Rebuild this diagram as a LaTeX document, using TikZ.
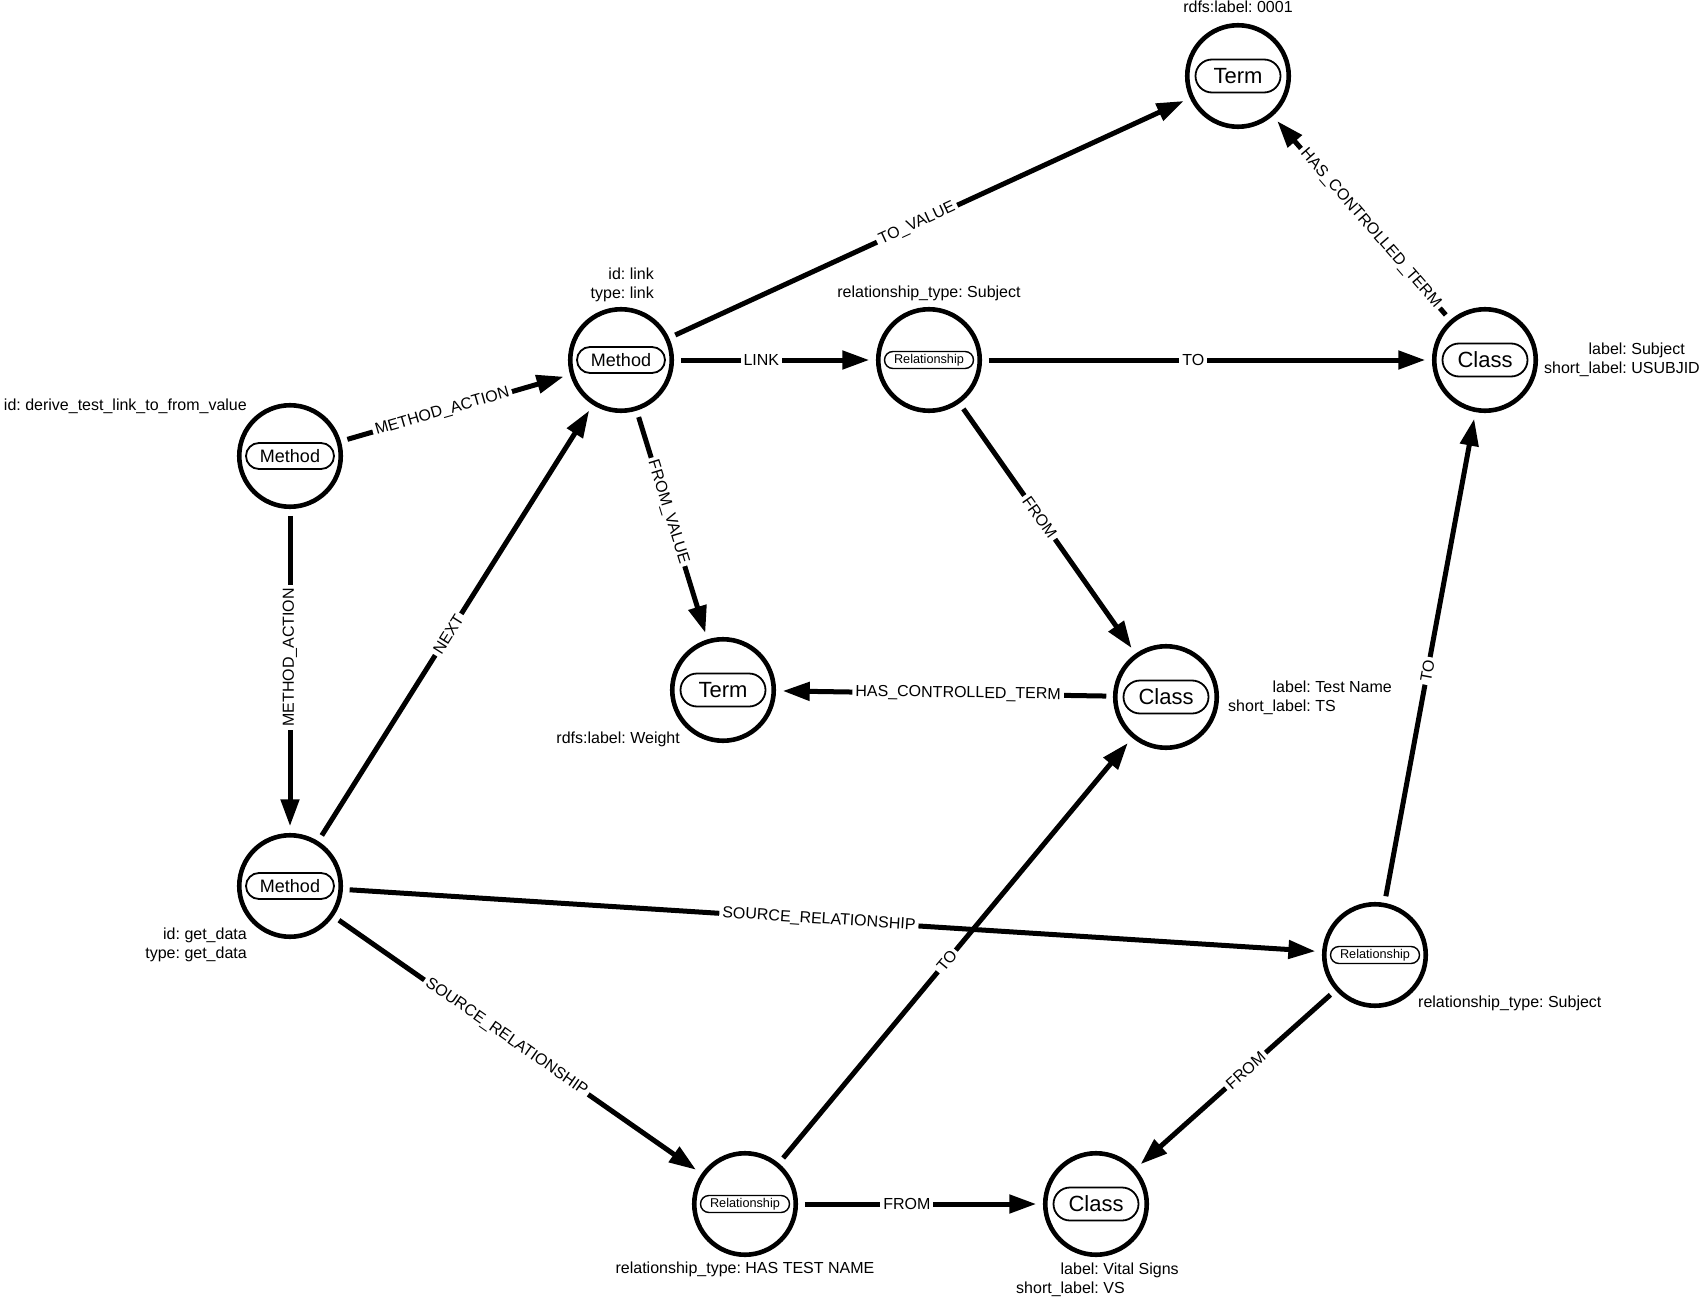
\documentclass[tikz,border=0pt]{standalone}
\usepackage{fontspec}
\setmainfont{Liberation Sans}
\usetikzlibrary{arrows.meta,shapes.misc,positioning,calc}
\newcommand{\propfont}{\fontsize{16}{19.2}\selectfont}
\newcommand{\kv}[1]{\begin{tabular}{@{}r@{:\ }l@{}}#1\end{tabular}}
\newcommand{\relarrow}[4][sloped]{\draw[rel] (#2) -- node[lbl,#1] {#4} ($(#3)!87pt!(#2)$) -- (#3);}
\tikzset{
  ent/.style={circle, draw, line width=4.6pt, minimum size=101.5pt, inner sep=0pt, outer sep=9pt},
  pill/.style={rounded rectangle, draw, line width=1.8pt, inner sep=0pt},
  mpill/.style={pill, minimum width=88pt, minimum height=26pt, font=\fontsize{18}{20}\selectfont},
  cpill/.style={pill, minimum width=85pt, minimum height=33pt, font=\fontsize{22}{24}\selectfont},
  rpill/.style={pill, minimum width=89pt, minimum height=17pt, line width=1.4pt, font=\fontsize{12.7}{14}\selectfont},
  prop/.style={inner sep=0pt, font=\propfont},
  rel/.style={line width=5pt, -{Triangle[length=27pt,width=18pt]}},
  lbl/.style={midway, fill=white, inner sep=3pt, font=\propfont},
}

\begin{document}
\begin{tikzpicture}[x=1pt,y=-1pt]
        \useasboundingbox (0,0) rectangle (1706,1300);

        \node[ent] (mDerive) at (290,456) {};   \node[mpill] at (mDerive) {Method};
        \node[ent] (mLink) at (621,360) {};     \node[mpill] at (mLink) {Method};
        \node[ent] (mData) at (290,886) {};     \node[mpill] at (mData) {Method};
        \node[ent] (tZero) at (1238,76) {};     \node[cpill] at (tZero) {Term};
        \node[ent] (tWeight) at (723,690) {};   \node[cpill] at (tWeight) {Term};
        \node[ent] (rSubj) at (929,360) {};     \node[rpill] at (rSubj) {Relationship};
        \node[ent] (rSubjB) at (1375,955) {};   \node[rpill] at (rSubjB) {Relationship};
        \node[ent] (rTest) at (745,1204) {};    \node[rpill] at (rTest) {Relationship};
        \node[ent] (cSubj) at (1485,360) {};    \node[cpill] at (cSubj) {Class};
        \node[ent] (cTest) at (1166,697) {};    \node[cpill] at (cTest) {Class};
        \node[ent] (cVital) at (1096,1204) {};  \node[cpill] at (cVital) {Class};

        \node[prop, anchor=east] at (247,407) {\kv{id&derive\_test\_link\_to\_from\_value}};
        \node[prop, anchor=east] at (654,285) {\kv{id&link\\type&link}};
        \node[prop, anchor=east] at (247,945) {\kv{id&get\_data\\type&get\_data}};
        \node[prop] at (1238,9) {\kv{rdfs:label&0001}};
        \node[prop, anchor=east] at (680,740) {\kv{rdfs:label&Weight}};
        \node[prop] at (929,294) {\kv{relationship\_type&Subject}};
        \node[prop, anchor=west] at (1418,1004) {\kv{relationship\_type&Subject}};
        \node[prop] at (745,1270) {\kv{relationship\_type&HAS TEST NAME}};
        \node[prop, anchor=east] at (1700,360) {\kv{label&Subject\\short\_label&USUBJID}};
        \node[prop, anchor=west] at (1228,698) {\kv{label&Test Name\\short\_label&TS}};
        \node[prop, anchor=west] at (1016,1280) {\kv{label&Vital Signs\\short\_label&VS}};

        \relarrow{mDerive}{mLink}{METHOD\_ACTION}
        \relarrow[rotate=90]{mDerive}{mData}{METHOD\_ACTION}
        \relarrow{mData}{mLink}{NEXT}
        \relarrow{mLink}{tZero}{TO\_VALUE}
        \relarrow{mLink}{rSubj}{LINK}
        \relarrow{mLink}{tWeight}{FROM\_VALUE}
        \relarrow{rSubj}{cSubj}{TO}
        \relarrow{rSubj}{cTest}{FROM}
        \relarrow{cSubj}{tZero}{HAS\_CONTROLLED\_TERM}
        \relarrow{cTest}{tWeight}{HAS\_CONTROLLED\_TERM}
        \relarrow{mData}{rSubjB}{SOURCE\_RELATIONSHIP}
        \relarrow{mData}{rTest}{SOURCE\_RELATIONSHIP}
        \relarrow{rTest}{cTest}{TO}
        \relarrow{rTest}{cVital}{FROM}
        \relarrow{rSubjB}{cSubj}{TO}
        \relarrow{rSubjB}{cVital}{FROM}

\end{tikzpicture}
\end{document}
